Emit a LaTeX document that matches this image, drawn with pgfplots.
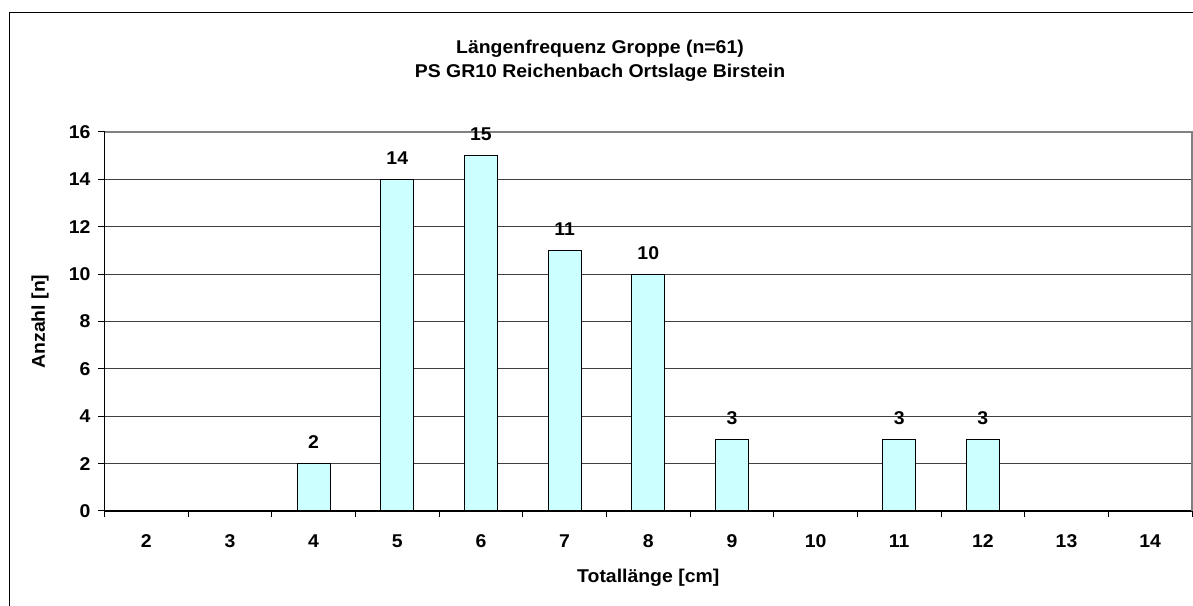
\documentclass[border=0pt]{standalone}
\usepackage{fontspec}
\setmainfont{Liberation Sans}[FakeStretch=1.05]
\usepackage{pgfplots}
\pgfplotsset{compat=1.18}
\definecolor{barfill}{HTML}{CCFFFF}
\newcommand{\cf}{\fontsize{18.5bp}{21bp}\selectfont\bfseries}
\begin{document}
\begin{tikzpicture}[x=1bp,y=1bp]
\useasboundingbox (0,0) rectangle (1193,606);
\clip (0,0) rectangle (1193,606);
\fill[white] (0,0) rectangle (1193,606);
\draw[black, line width=1.3bp] (9.5,593.5) rectangle (1210,-10);
\node[font=\cf] at (600,557) {Längenfrequenz Groppe (n=61)};
\node[font=\cf] at (600,533) {PS GR10 Reichenbach Ortslage Birstein};
\begin{axis}[
  at={(104.5bp,95bp)}, anchor=south west,
  scale only axis, width=1087.5bp, height=379bp,
  xmin=-0.5, xmax=12.5, ymin=0, ymax=16,
  ytick={0,2,...,16},
  xtick={0,...,12},
  xticklabels={2,3,4,5,6,7,8,9,10,11,12,13,14},
  minor xtick={-0.5,0.5,...,12.5},
  major x tick style={draw=none},
  minor x tick style={black, line width=1bp},
  ytick style={black, line width=1bp},
  tick align=outside, major tick length=6.5bp, minor tick length=6.5bp,
  axis x line*=bottom, axis y line*=left,
  axis line style={black, line width=1.2bp},
  ymajorgrids, grid style={black!75, line width=1bp},
  tick label style={font=\cf, black},
  /pgf/number format/assume math mode=true,
  xticklabel style={yshift=-14bp},
  yticklabel style={xshift=-4bp},
  xlabel={Totallänge [cm]}, ylabel={Anzahl [n]},
  every axis x label/.style={at={(rel axis cs:0.5,0)}, anchor=center, yshift=-67bp, font=\cf},
  every axis y label/.style={at={(rel axis cs:0,0.5)}, anchor=center, xshift=-64.5bp, rotate=90, font=\cf},
  ybar, bar width=33bp,
  nodes near coords,
  every node near coord/.append style={font=\cf, black, yshift=11bp},
  clip=false,
]
% categories 2,3,10,13,14 have zero fish
\addplot[fill=barfill, draw=black, line width=1bp] coordinates {
(2,2) (3,14) (4,15) (5,11) (6,10) (7,3) (9,3) (10,3)
};
\draw[gray, line width=1.5bp] (rel axis cs:0,1) -- (rel axis cs:1,1) -- (rel axis cs:1,0);
\end{axis}
\end{tikzpicture}
\end{document}
